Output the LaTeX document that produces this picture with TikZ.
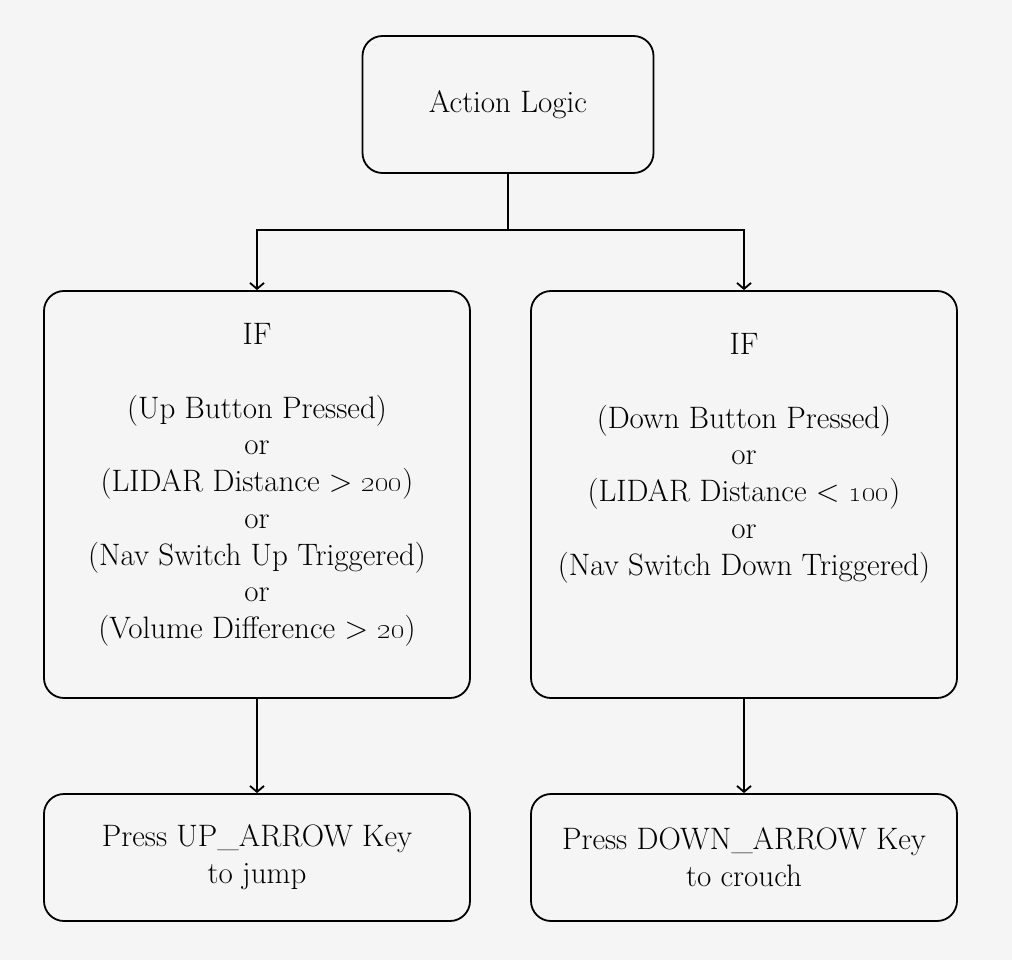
\documentclass[tikz,border=0pt]{standalone}
\usepackage{tikz}
\usetikzlibrary{arrows.meta}

\definecolor{paper}{HTML}{F5F5F5}

\begin{document}
\begin{tikzpicture}[
        x=1pt, y=-1pt,
        box/.style={rectangle, rounded corners=20pt, draw=black, line width=1.8pt, text=black, align=center, font=\fontsize{31}{37}\selectfont},
        boxtext/.style={align=center, inner sep=0pt, anchor=north, font=\fontsize{31}{36.7}\selectfont},
        link/.style={line width=1.8pt, -{Straight Barb[length=6pt, width=14pt, line width=1.8pt]}},
]
        \fill[paper] (0,0) rectangle (1012,960);
        \useasboundingbox (0,0) rectangle (1012,960);

        \node[box, minimum width=291pt, minimum height=137pt] (action) at (508,104.5) {Action Logic};
        \node[box, minimum width=426pt, minimum height=407pt] (leftif) at (257,494.5) {};
        \node[box, minimum width=426pt, minimum height=407pt] (rightif) at (744,494.5) {};
        \node[box, minimum width=426pt, minimum height=127pt] (jump) at (257,857.5) {Press UP\_ARROW Key\\to jump};
        \node[box, minimum width=426pt, minimum height=127pt] (crouch) at (744,857.5) {Press DOWN\_ARROW Key\\to crouch};

        \node[boxtext] (lefttext) at (257,323.5) {IF\\[36.7pt](Up Button Pressed)\\or\\(LIDAR Distance \textgreater{} \oldstylenums{200})\\or\\(Nav Switch Up Triggered)\\or\\(Volume Difference \textgreater{} \oldstylenums{20})};
        \node[boxtext] (righttext) at (744,333.5) {IF\\[36.7pt](Down Button Pressed)\\or\\(LIDAR Distance \textless{} \oldstylenums{100})\\or\\(Nav Switch Down Triggered)};

        \coordinate (fork) at (508,230);
        \draw[line width=1.8pt] (action.south) -- (fork);
        \draw[link] (fork) -| (leftif.north);
        \draw[link] (fork) -| (rightif.north);
        \draw[link] (leftif.south) -- (jump.north);
        \draw[link] (rightif.south) -- (crouch.north);
\end{tikzpicture}
\end{document}
